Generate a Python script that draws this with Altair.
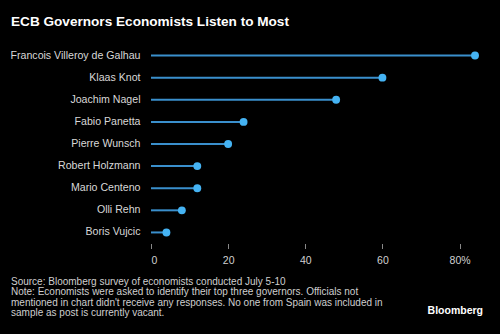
import altair as alt
import pandas as pd

names = ["Francois Villeroy de Galhau", "Klaas Knot", "Joachim Nagel", "Fabio Panetta",
         "Pierre Wunsch", "Robert Holzmann", "Mario Centeno", "Olli Rehn", "Boris Vujcic"]
values = [84, 60, 48, 24, 20, 12, 12, 8, 4]
tick_values = [0, 20, 40, 60, 80]
title_text = "ECB Governors Economists Listen to Most"
footnote_lines = [
    "Source: Bloomberg survey of economists conducted July 5-10",
    "Note: Economists were asked to identify their top three governors. Officials not",
    "mentioned in chart didn't receive any responses. No one from Spain was included in",
    "sample as post is currently vacant.",
]
brand = "Bloomberg"

FONT = "Liberation Sans"
df = pd.DataFrame({"name": names, "value": values})

x = alt.X("value:Q", scale=alt.Scale(domain=[0, 84], nice=False, zero=True),
          axis=alt.Axis(values=tick_values, title=None, domain=False, grid=False,
                        tickSize=5, tickColor="#888888", labelColor="#d0d0d0",
                        labelFontSize=10.5, labelFont=FONT, labelPadding=7,
                        labelExpr="datum.value == 80 ? '80%' : datum.label"))
y = alt.Y("name:N", sort=names, scale=alt.Scale(paddingInner=0, paddingOuter=0),
          axis=alt.Axis(title=None, domain=False, ticks=False, grid=False,
                        labelColor="#d8d8d8", labelFontSize=10.6, labelFont=FONT,
                        labelPadding=11))

base = alt.Chart(df)
rules = base.mark_rule(color="#3a8fcc", strokeWidth=2).encode(
    x=x, x2=alt.datum(0), y=y)
dots = base.mark_circle(color="#45b3f3", opacity=1, size=62).encode(x=x, y=y)

title = alt.Chart(pd.DataFrame({"t": [title_text]})).mark_text(
    align="left", baseline="middle", fontSize=13.6, fontWeight="bold", font=FONT,
    color="#ffffff").encode(text="t:N", x=alt.value(-140), y=alt.value(-23))

foot = alt.Chart(pd.DataFrame({"t": ["\n".join(footnote_lines)]})).mark_text(
    align="left", baseline="middle", fontSize=10, font=FONT, color="#cfcfcf",
    lineBreak="\n", lineHeight=10.2).encode(
    text="t:N", x=alt.value(-140), y=alt.value(237.7))

logo = alt.Chart(pd.DataFrame({"t": [brand]})).mark_text(
    align="right", baseline="middle", fontSize=10.5, fontWeight="bold", font=FONT,
    color="#ffffff").encode(text="t:N", x=alt.value(332), y=alt.value(266.7))

chart = alt.layer(rules, dots, title, foot, logo).properties(
    width=324, height=199, background="#000000",
    padding={"left": 151, "top": 44.5, "right": 25, "bottom": 90.5},
    autosize=alt.AutoSizeParams(type="none"),
).configure_view(stroke=None)

chart.save("out.html", embed_options={"renderer": "svg", "actions": False})
